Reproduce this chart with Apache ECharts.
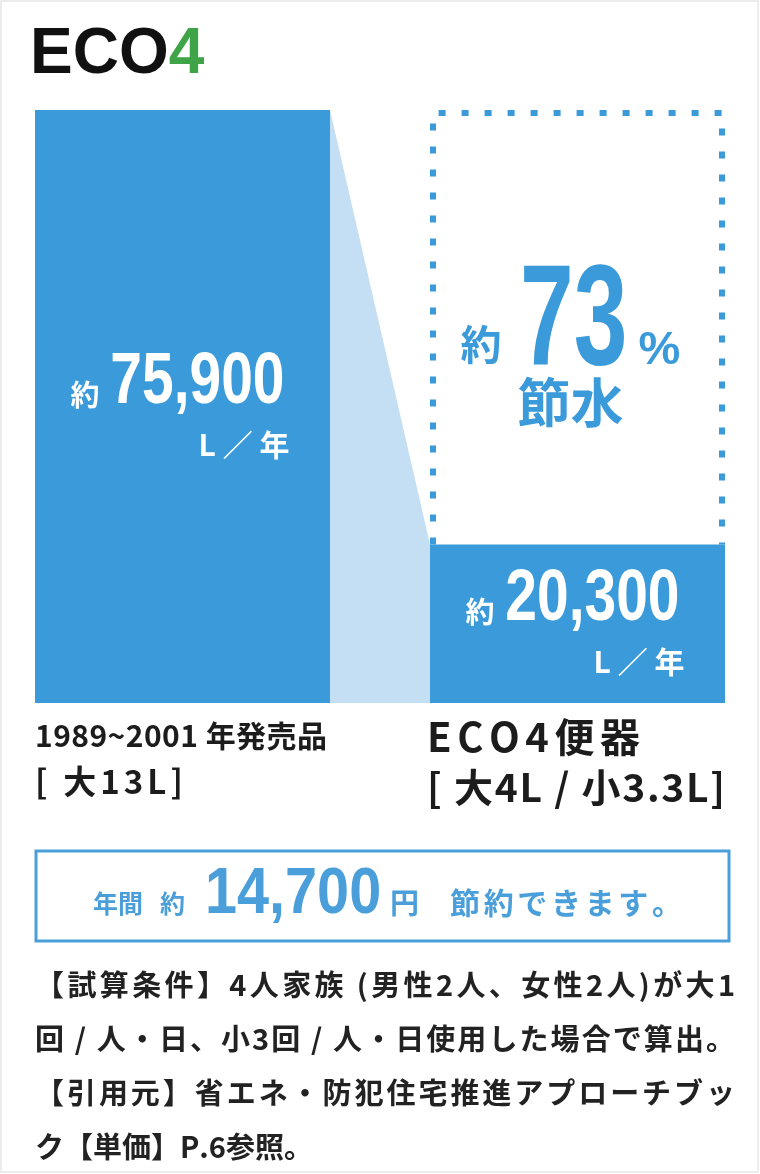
<!DOCTYPE html>
<html><head><meta charset="utf-8">
<script src="https://cdn.jsdelivr.net/npm/echarts@6/dist/echarts.min.js"></script>
<style>html,body{margin:0;padding:0;background:#fff}#c{width:760px;height:1174px}</style>
</head><body><div id="c"></div>
<script>
// ---- data ----
const categories = ['1989~2001 年発売品', 'ECO4便器'];
const categorySub = ['[ 大13L]', '[ 大4L / 小3.3L]'];
const usage = [75900, 20300];           // 年間使用水量 (L/年)
const usageUnit = 'L ／ 年';
const savingPct = 73;                   // 約73%節水
const yearlySavingYen = 14700;          // 年間 約14,700円
const notes = [
  '【試算条件】4人家族 (男性2人、女性2人)が大1',
  '回 / 人・日、小3回 / 人・日使用した場合で算出。',
  '【引用元】省エネ・防犯住宅推進アプローチブッ',
  'ク【単価】P.6参照。'
];

// ---- style ----
const BLUE = '#3b9ad9', LIGHT = '#c4def3', DARK = '#1c1c1c', GREEN = '#3fa447', BOXBLUE = '#4a9fdb';
const SANS = "'Liberation Sans',Arial,sans-serif";
const JP = "'Noto Sans CJK JP','Noto Sans',sans-serif";
const BAR_W = 295, PITCH = 395;
const comma = v => echarts.format.addCommas(v);

// spread characters of a line over a given width (justified typesetting)
const mctx = document.createElement('canvas').getContext('2d');
function spread(text, size, width, fill) {
  mctx.font = `bold ${size}px ${JP}`;
  const chars = Array.from(text);
  const natural = chars.reduce((s, c) => s + mctx.measureText(c).width, 0);
  const gap = width ? Math.max(0, (width - natural) / (chars.length - 1)) : 0;
  return {
    text: chars.map(c => `{g|${c}}`).join(''),
    rich: {g: {fontFamily: JP, fontWeight: 'bold', fontSize: size, fill: fill, padding: [0, gap, 0, 0]}}
  };
}
function txt(x, y, s, extra) {
  return Object.assign({type: 'text', silent: true, x: x, y: y,
    style: Object.assign({align: 'left', verticalAlign: 'middle'}, s)}, extra || {});
}

const half = BAR_W / 2 / PITCH;
const chart = echarts.init(document.getElementById('c'), null, {renderer: 'canvas'});
chart.setOption({
  animation: false,
  backgroundColor: '#fff',
  title: {
    text: '{a|ECO}{b|4}', left: 25, top: 18,
    textStyle: { rich: {
      a: {fontFamily: SANS, fontWeight: 'bold', fontSize: 64, color: '#111'},
      b: {fontFamily: SANS, fontWeight: 'bold', fontSize: 64, color: GREEN}
    }}
  },
  grid: {left: 35, right: 35, top: 110, bottom: 471},
  xAxis: {type: 'value', min: -half, max: 1 + half, show: false},
  yAxis: {type: 'value', min: 0, max: Math.max(...usage), show: false},
  series: [
    { // light-blue connector between bars
      type: 'custom', z: 1, silent: true, data: [0],
      renderItem: (params, api) => {
        const h = BAR_W / 2;
        const a = api.coord([0, usage[0]]), b = api.coord([1, usage[1]]);
        const a0 = api.coord([0, 0]), b0 = api.coord([1, 0]);
        return {type: 'polygon', shape: {points: [[a[0] + h, a[1]], [b[0] - h, b[1]], [b0[0] - h, b0[1]], [a0[0] + h, a0[1]]]},
          style: {fill: LIGHT}};
      }
    },
    {
      type: 'bar', z: 3, silent: true, data: usage.map((v, i) => [i, v]), barWidth: BAR_W,
      itemStyle: {color: BLUE}
    },
    { // value labels inside bars
      type: 'custom', z: 6, silent: true, data: [0, 1],
      renderItem: (params, api) => {
        const i = params.dataIndex;
        const top = api.coord([i, usage[i]]), bot = api.coord([i, 0]);
        const cx = top[0], mid = (top[1] + bot[1]) / 2;
        return {type: 'group', children: [
          txt(cx - 112, mid - 12, {text: '約', fontFamily: JP, fontWeight: 'bold', fontSize: 29, fill: '#fff'}),
          txt(cx + 102, mid - 24, {text: comma(usage[i]), fontFamily: SANS, fontWeight: 'bold', fontSize: 73, fill: '#fff', align: 'right'}, {scaleX: 0.78}),
          txt(cx + 107, mid + 38, {text: usageUnit, fontFamily: JP, fontWeight: 'bold', fontSize: 30, fill: '#fff', align: 'right'})
        ]};
      }
    },
    { // dotted outline showing the saved amount
      type: 'custom', z: 4, silent: true, data: [1],
      renderItem: (params, api) => {
        const h = BAR_W / 2;
        const t = api.coord([1, usage[0]]), b = api.coord([1, usage[1]]);
        const cx = t[0], l = cx - h + 3, r = cx + h - 3, top = t[1] + 3;
        return {type: 'group', children: [
          {type: 'polyline', shape: {points: [[l, b[1]], [l, top], [r, top], [r, b[1]]]},
            style: {stroke: BLUE, lineWidth: 6, lineDash: [7, 16], fill: null}},
          txt(cx - 117, t[1] + 234, {text: '約', fontFamily: JP, fontWeight: 'bold', fontSize: 41, fill: BLUE}),
          txt(cx + 50, t[1] + 215, {text: String(savingPct), fontFamily: SANS, fontWeight: 'bold', fontSize: 142, fill: BLUE, align: 'right'}, {scaleX: 0.68}),
          txt(cx + 61, t[1] + 241, {text: '%', fontFamily: SANS, fontWeight: 'bold', fontSize: 47, fill: BLUE}),
          txt(cx - 7, t[1] + 293, {text: '節水', fontFamily: JP, fontWeight: 'bold', fontSize: 53, fill: BLUE, align: 'center'})
        ]};
      }
    },
    { // category labels under bars
      type: 'custom', z: 5, silent: true, data: [0, 1],
      renderItem: (params, api) => {
        const i = params.dataIndex;
        const p = api.coord([i, 0]);
        const x = p[0] - BAR_W / 2;
        const l1 = i ? spread(categories[i], 40, 213, DARK) : spread(categories[i], 30, 292, DARK);
        const l2 = i ? spread(categorySub[i], 39, 298, DARK) : spread(categorySub[i], 33, 148, DARK);
        return {type: 'group', children: [
          txt(x - (i ? 3 : 0), p[1] + (i ? 34 : 33), l1),
          txt(x - (i ? 3 : 0), p[1] + (i ? 84 : 78), l2)
        ]};
      }
    }
  ],
  graphic: [
    {type: 'rect', silent: true, shape: {x: 1, y: 1, width: 757, height: 1171}, style: {fill: null, stroke: '#ececec', lineWidth: 2}},
    {type: 'rect', silent: true, shape: {x: 36, y: 851, width: 693, height: 90}, style: {fill: null, stroke: BOXBLUE, lineWidth: 3}},
    txt(93, 903, {text: '年間', fontFamily: JP, fontWeight: 'bold', fontSize: 25, fill: BOXBLUE}),
    txt(160, 903, {text: '約', fontFamily: JP, fontWeight: 'bold', fontSize: 25, fill: BOXBLUE}),
    txt(205, 895, {text: comma(yearlySavingYen), fontFamily: SANS, fontWeight: 'bold', fontSize: 64, fill: BOXBLUE}, {scaleX: 0.9}),
    txt(390, 903, {text: '円', fontFamily: JP, fontWeight: 'bold', fontSize: 29, fill: BOXBLUE}),
    txt(450, 903, spread('節約できます。', 30, 232, BOXBLUE)),
    ...notes.map((t, k) => txt(35, 985 + k * 54, spread(t, 29, k < 3 ? 700 : 0, '#222')))
  ]
});
</script></body></html>
